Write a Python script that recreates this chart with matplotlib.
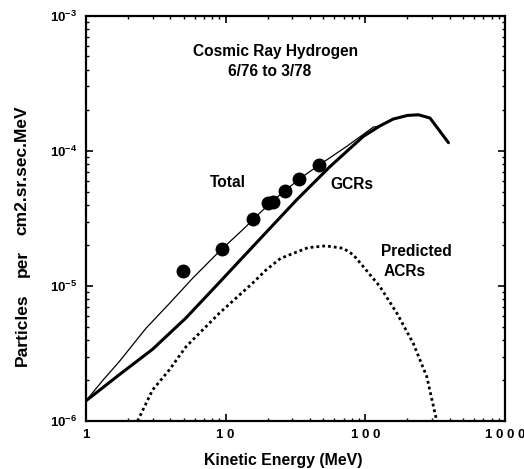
import matplotlib
matplotlib.use("Agg")
import matplotlib.pyplot as plt
from matplotlib.ticker import LogLocator, FixedLocator, FixedFormatter, NullFormatter

plt.rcParams['font.family'] = ['Liberation Sans', 'DejaVu Sans']
plt.rcParams['font.weight'] = 'bold'
plt.rcParams['mathtext.fontset'] = 'custom'
plt.rcParams['mathtext.rm'] = 'Liberation Sans:bold'
plt.rcParams['mathtext.default'] = 'rm'

# Data
gcr_energy = [1, 1.73, 3.0, 5.2, 9.0, 15.6, 32.2, 55.8, 96.6, 127, 158, 200, 240, 290, 393]
gcr_flux = [1.41e-6, 2.2e-6, 3.4e-6, 5.8e-6, 1.06e-5, 1.95e-5, 4.34e-5, 7.65e-5,
            1.28e-4, 1.53e-4, 1.72e-4, 1.83e-4, 1.85e-4, 1.75e-4, 1.15e-4]

total_energy = [1, 1.32, 1.73, 2.69, 3.95, 5.8, 9.0, 13.2, 21, 33.7, 46.8, 73.5, 114, 127]
total_flux = [1.41e-6, 2.0e-6, 2.75e-6, 4.86e-6, 7.4e-6, 1.14e-5, 1.8e-5, 2.6e-5,
              4.15e-5, 6.2e-5, 7.87e-5, 1.08e-4, 1.5e-4, 1.53e-4]

acr_energy = [2.34, 3.0, 3.95, 5.2, 9.0, 15.6, 19.4, 24.7, 38.7, 52, 69.5, 81.9, 96.6,
              127, 168, 220, 275, 324]
acr_flux = [1.0e-6, 1.7e-6, 2.39e-6, 3.55e-6, 6.28e-6, 1.05e-5, 1.31e-5, 1.6e-5, 1.92e-5,
            1.98e-5, 1.9e-5, 1.7e-5, 1.39e-5, 9.9e-6, 6.28e-6, 3.76e-6, 2.13e-6, 1.0e-6]

obs_energy = [4.92, 9.36, 15.8, 20.2, 21.9, 26.6, 33.7, 46.8]
obs_flux = [1.29e-5, 1.87e-5, 3.13e-5, 4.14e-5, 4.21e-5, 5.08e-5, 6.2e-5, 7.87e-5]

x_ticks = [1, 10, 100, 1000]
x_tick_labels = ["1", "1 0", "1 0 0", "1 0 0 0"]
y_ticks = [1e-6, 1e-5, 1e-4, 1e-3]
y_tick_labels = [r"$10^{-6}$", r"$10^{-5}$", r"$10^{-4}$", r"$10^{-3}$"]

fig = plt.figure(figsize=(5.24, 4.69), dpi=100)
ax = fig.add_axes([0.164, 0.1023, 0.800, 0.864])

ax.plot(total_energy, total_flux, color='black', lw=0.9)
ax.plot(gcr_energy, gcr_flux, color='black', lw=2.2, solid_capstyle='round',
        solid_joinstyle='round')
ax.plot(acr_energy, acr_flux, color='black', lw=2.0, linestyle=(0, (1, 1.1)))
ax.plot(obs_energy, obs_flux, 'o', color='black', markersize=9)

ax.set_xscale('log')
ax.set_yscale('log')
ax.set_xlim(1, 1000)
ax.set_ylim(1e-6, 1e-3)

ax.xaxis.set_major_locator(FixedLocator(x_ticks))
ax.xaxis.set_major_formatter(FixedFormatter(x_tick_labels))
ax.yaxis.set_major_locator(FixedLocator(y_ticks))
ax.yaxis.set_major_formatter(FixedFormatter(y_tick_labels))
ax.xaxis.set_minor_locator(LogLocator(base=10, subs=range(2, 10)))
ax.yaxis.set_minor_locator(LogLocator(base=10, subs=range(2, 10)))
ax.xaxis.set_minor_formatter(NullFormatter())
ax.yaxis.set_minor_formatter(NullFormatter())

ax.tick_params(which='both', direction='in', top=True, right=True, color='black')
ax.tick_params(which='major', length=5, width=1.2, labelsize=9.5, pad=6)
ax.tick_params(which='minor', length=2.5, width=1.0)
for s in ax.spines.values():
    s.set_linewidth(1.6)

# Axis titles
fig.text(0.54, 0.019, "Kinetic Energy (MeV)", ha='center', va='center',
         fontsize=11.4, fontweight='bold')
yl = dict(rotation=90, ha='center', va='center', fontsize=12.5, fontweight='bold')
fig.text(0.042, 0.2964, "Particles", **yl)
fig.text(0.042, 0.4392, "per", **yl)
fig.text(0.042, 0.6375, "cm2.sr.sec.MeV", **yl)

tk = dict(transform=ax.transAxes, ha='center', va='center', fontsize=11.2, fontweight='bold')
ax.text(0.453, 0.911, "Cosmic Ray Hydrogen", **tk)
ax.text(0.437, 0.862, "6/76 to 3/78", **tk)
ax.text(0.339, 0.588, "Total", **tk)
ax.text(0.635, 0.583, "GCRs", **tk)
ax.text(0.789, 0.418, "Predicted", **tk)
ax.text(0.761, 0.368, "ACRs", **tk)

fig.savefig("out.png", dpi=100)
